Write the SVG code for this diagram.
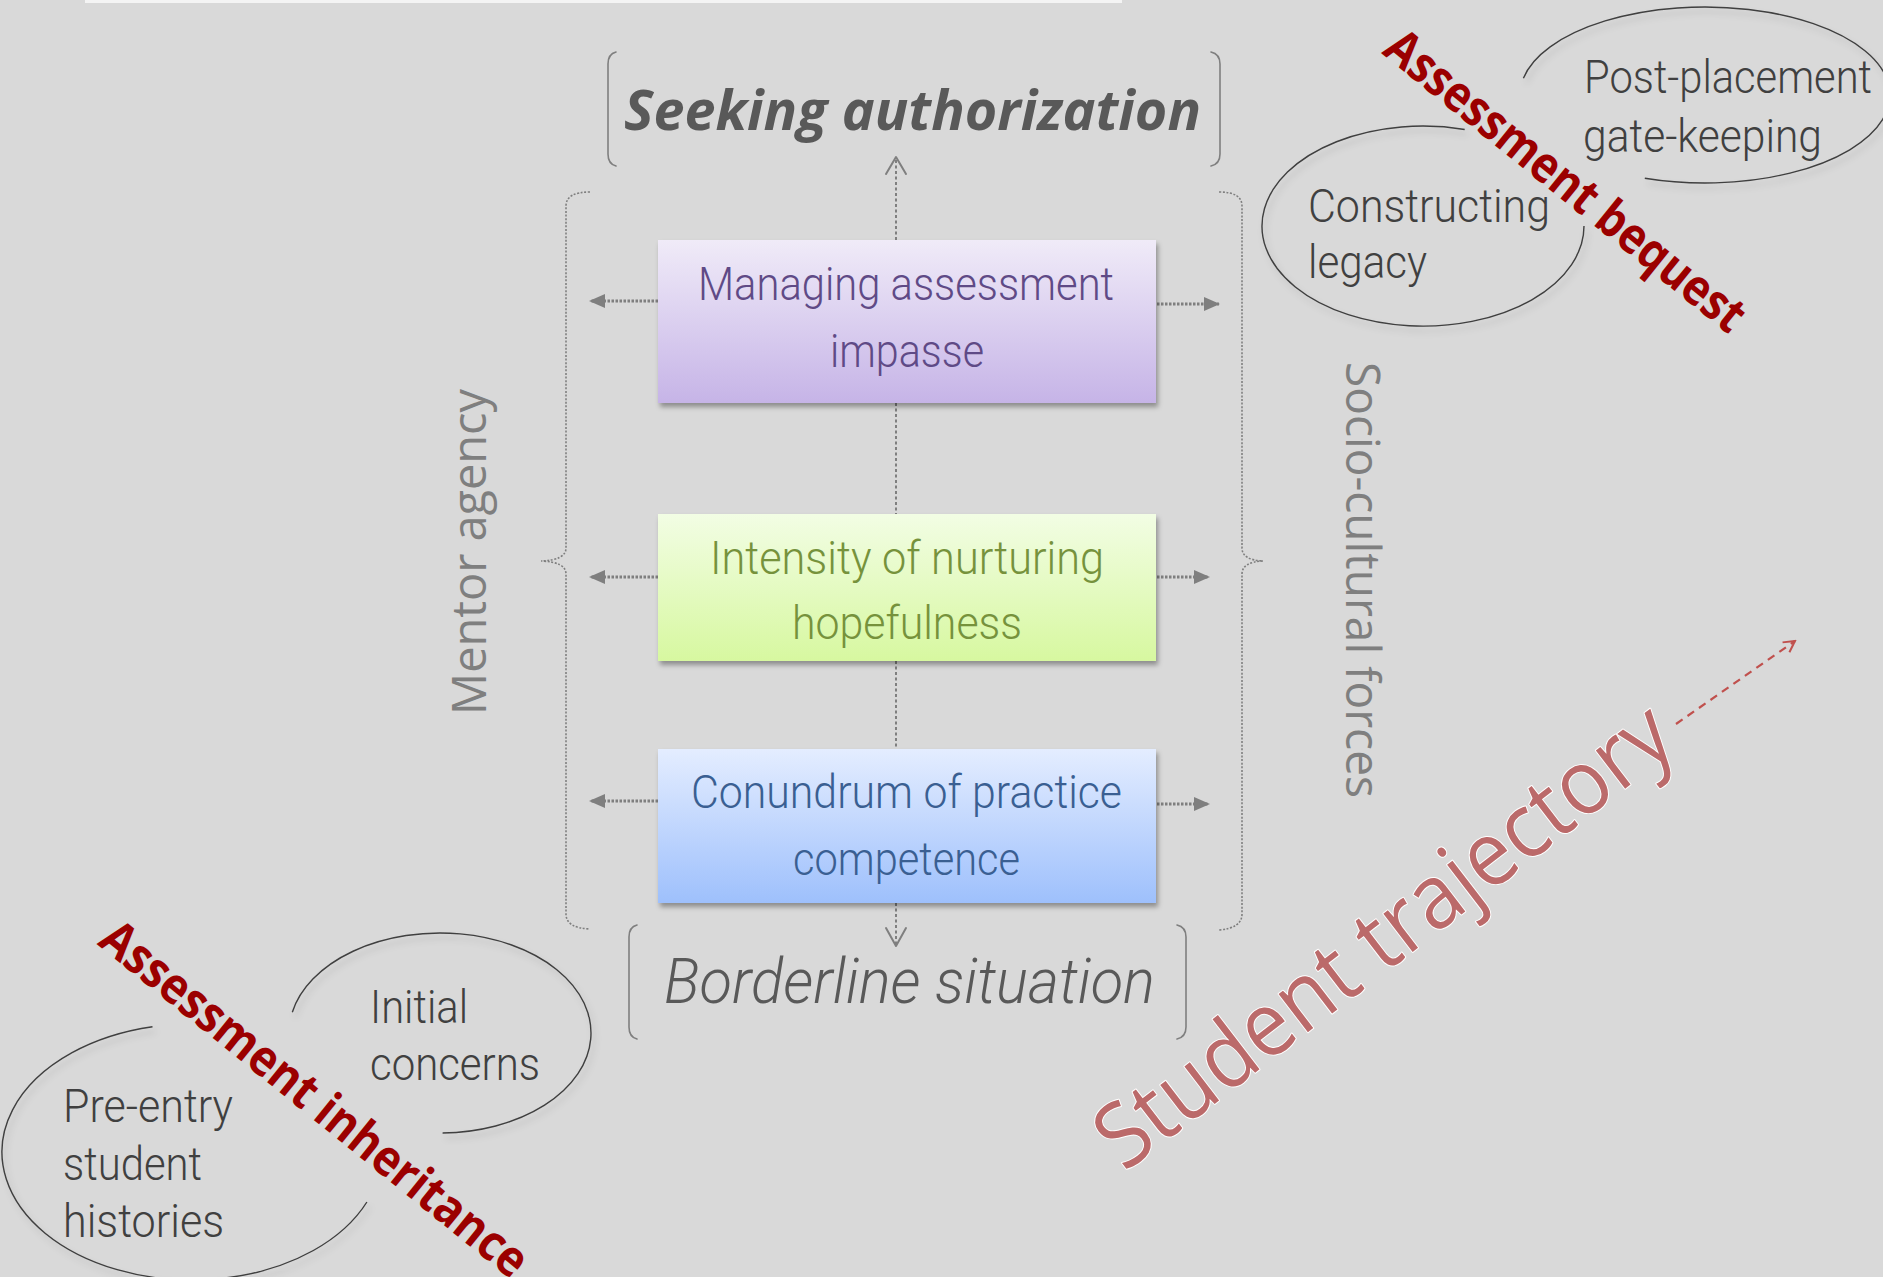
<svg xmlns="http://www.w3.org/2000/svg" width="1883" height="1277" viewBox="0 0 1883 1277">
  <style>
    .bg { fill: #d9d9d9; }
    .boxText { font-family: Roboto, "Open Sans", sans-serif; font-weight: 300; font-size: 46px; }
    .ellText { font-family: Roboto, "Open Sans", sans-serif; font-weight: 300; font-size: 46px; fill: #404040; }
    .side { font-family: "Open Sans", "Noto Sans", sans-serif; font-weight: 400; font-size: 48px; fill: #7f7f7f; }
    .stamp { font-family: "Open Sans", "Noto Sans", sans-serif; font-weight: 700; font-size: 50px; fill: #9b0000; }
    .bracket { fill: none; stroke: #7f7f7f; stroke-width: 1.6; stroke-linecap: round; }
    .brace { fill: none; stroke: #7f7f7f; stroke-width: 1.6; stroke-dasharray: 2 1.6; }
    .spine { fill: none; stroke: #7f7f7f; stroke-width: 2; stroke-dasharray: 3 2.5; }
    .sideArrow { fill: none; stroke: #7f7f7f; stroke-width: 3; stroke-dasharray: 2.5 1.5; }
    .openHead { fill: none; stroke: #7f7f7f; stroke-width: 2; stroke-linecap: round; stroke-linejoin: round; }
    .arc { fill: none; stroke: #3f3f3f; stroke-width: 1.4; }
  </style>
  <defs>
    <linearGradient id="gPurple" x1="0" y1="0" x2="0" y2="1">
      <stop offset="0" stop-color="#f0ebf8"/>
      <stop offset="1" stop-color="#c6b4e7"/>
    </linearGradient>
    <linearGradient id="gGreen" x1="0" y1="0" x2="0" y2="1">
      <stop offset="0" stop-color="#f2fde4"/>
      <stop offset="1" stop-color="#d7f8a0"/>
    </linearGradient>
    <linearGradient id="gBlue" x1="0" y1="0" x2="0" y2="1">
      <stop offset="0" stop-color="#e4edff"/>
      <stop offset="1" stop-color="#9ec0fc"/>
    </linearGradient>
    <filter id="boxShadow" x="-10%" y="-10%" width="130%" height="140%">
      <feDropShadow dx="2" dy="4" stdDeviation="2.5" flood-color="#000" flood-opacity="0.35"/>
    </filter>
    <filter id="arcShadow" x="-10%" y="-10%" width="130%" height="140%">
      <feDropShadow dx="3" dy="5" stdDeviation="3" flood-color="#000" flood-opacity="0.18"/>
    </filter>
    <marker id="triHead" viewBox="0 0 16 14" refX="15" refY="7" markerWidth="16" markerHeight="14" markerUnits="userSpaceOnUse" orient="auto">
      <path d="M0,0 L16,7 L0,14 Z" fill="#7f7f7f"/>
    </marker>
    <marker id="redHead" viewBox="0 0 14 14" refX="12" refY="7" markerWidth="14" markerHeight="14" markerUnits="userSpaceOnUse" orient="auto">
      <path d="M1,1 L12,7 L1,13" fill="none" stroke="#c0504d" stroke-width="2"/>
    </marker>
  </defs>

  <rect class="bg" x="0" y="0" width="1883" height="1277"/>
  <rect x="85" y="0" width="1037" height="3" fill="#f4f4f4"/>

  <!-- outcome labels with their brackets -->
  <g id="seeking-authorization">
    <path class="bracket" d="M616,52 Q608,54 608,64 L608,154 Q608,164 616,166"/>
    <path class="bracket" d="M1211,52 Q1220,54 1220,64 L1220,154 Q1220,164 1211,166"/>
    <text x="624" y="130" textLength="577" lengthAdjust="spacingAndGlyphs" font-family="'Open Sans', 'Noto Sans', sans-serif" font-weight="700" font-style="italic" font-size="56" fill="#595959">Seeking authorization</text>
  </g>

  <g id="borderline-situation">
    <path class="bracket" d="M637,925 Q629,927 629,937 L629,1027 Q629,1037 637,1039"/>
    <path class="bracket" d="M1177,925 Q1186,927 1186,937 L1186,1027 Q1186,1037 1177,1039"/>
    <text x="664" y="1003" textLength="491" lengthAdjust="spacingAndGlyphs" font-family="Roboto, 'Open Sans', sans-serif" font-weight="300" font-style="italic" font-size="63" fill="#595959">Borderline situation</text>
  </g>

  <!-- side forces -->
  <g id="mentor-agency">
    <path class="brace" d="M590,192 Q566,192 566,206 L566,548 Q566,560 541,561 Q566,562 566,574 L566,914 Q566,928 590,929"/>
    <text class="side" transform="translate(486,552) rotate(-90)" text-anchor="middle" textLength="326" lengthAdjust="spacingAndGlyphs">Mentor agency</text>
  </g>

  <g id="socio-cultural-forces">
    <path class="brace" d="M1219,192 Q1242,192 1242,206 L1242,548 Q1242,560 1263,561 Q1242,562 1242,574 L1242,914 Q1242,928 1219,930"/>
    <text class="side" transform="translate(1346,580) rotate(90)" text-anchor="middle" textLength="436" lengthAdjust="spacingAndGlyphs">Socio-cultural forces</text>
  </g>

  <!-- connectors -->
  <g id="connectors">
    <line class="spine" x1="896" y1="160" x2="896" y2="240"/>
    <path class="openHead" d="M886,174 L896,157 L906,174"/>
    <line class="spine" x1="896" y1="403" x2="896" y2="514"/>
    <line class="spine" x1="896" y1="661" x2="896" y2="749"/>
    <line class="spine" x1="896" y1="903" x2="896" y2="944"/>
    <path class="openHead" d="M886,928 L896,946 L906,928"/>

    <line class="sideArrow" x1="658" y1="301" x2="590" y2="301" marker-end="url(#triHead)"/>
    <line class="sideArrow" x1="1157" y1="304" x2="1219" y2="304" marker-end="url(#triHead)"/>
    <line class="sideArrow" x1="658" y1="577" x2="590" y2="577" marker-end="url(#triHead)"/>
    <line class="sideArrow" x1="1157" y1="577" x2="1209" y2="577" marker-end="url(#triHead)"/>
    <line class="sideArrow" x1="658" y1="801" x2="590" y2="801" marker-end="url(#triHead)"/>
    <line class="sideArrow" x1="1157" y1="804" x2="1209" y2="804" marker-end="url(#triHead)"/>

    <line x1="1676" y1="724" x2="1795" y2="641" stroke="#c0504d" stroke-width="2.2" stroke-dasharray="8 6" marker-end="url(#redHead)"/>
  </g>

  <!-- stages -->
  <g id="managing-assessment-impasse">
    <rect x="658" y="240" width="498" height="163" fill="url(#gPurple)" filter="url(#boxShadow)"/>
    <text class="boxText" fill="#5f4a86" x="698" y="300" textLength="416" lengthAdjust="spacingAndGlyphs">Managing assessment</text>
    <text class="boxText" fill="#5f4a86" x="830" y="367" textLength="154" lengthAdjust="spacingAndGlyphs">impasse</text>
  </g>

  <g id="intensity-of-nurturing-hopefulness">
    <rect x="658" y="514" width="498" height="147" fill="url(#gGreen)" filter="url(#boxShadow)"/>
    <text class="boxText" fill="#76923c" x="710" y="574" textLength="394" lengthAdjust="spacingAndGlyphs">Intensity of nurturing</text>
    <text class="boxText" fill="#76923c" x="792" y="639" textLength="230" lengthAdjust="spacingAndGlyphs">hopefulness</text>
  </g>

  <g id="conundrum-of-practice-competence">
    <rect x="658" y="749" width="498" height="154" fill="url(#gBlue)" filter="url(#boxShadow)"/>
    <text class="boxText" fill="#3a5f92" x="691" y="808" textLength="431" lengthAdjust="spacingAndGlyphs">Conundrum of practice</text>
    <text class="boxText" fill="#3a5f92" x="793" y="875" textLength="227" lengthAdjust="spacingAndGlyphs">competence</text>
  </g>

  <!-- assessment bequest cluster -->
  <g id="post-placement-gate-keeping">
    <path class="arc" filter="url(#arcShadow)" d="M1523.4,78.2 A185,88 0 1 1 1644.8,178.2"/>
    <text class="ellText" x="1584" y="93" textLength="288" lengthAdjust="spacingAndGlyphs">Post-placement</text>
    <text class="ellText" x="1583" y="152" textLength="239" lengthAdjust="spacingAndGlyphs">gate-keeping</text>
  </g>

  <g id="constructing-legacy">
    <path class="arc" filter="url(#arcShadow)" d="M1584,226 A161,100 0 1 1 1464.7,129.5"/>
    <text class="ellText" x="1308" y="222" textLength="242" lengthAdjust="spacingAndGlyphs">Constructing</text>
    <text class="ellText" x="1308" y="278" textLength="119" lengthAdjust="spacingAndGlyphs">legacy</text>
  </g>

  <g id="assessment-bequest">
    <text class="stamp" transform="translate(1555,194) rotate(39)" text-anchor="middle" textLength="448" lengthAdjust="spacingAndGlyphs">Assessment bequest</text>
  </g>

  <!-- assessment inheritance cluster -->
  <g id="initial-concerns">
    <path class="arc" filter="url(#arcShadow)" d="M292.3,1012.2 A151,100 0 1 1 442.6,1133"/>
    <text class="ellText" x="370" y="1023" textLength="98" lengthAdjust="spacingAndGlyphs">Initial</text>
    <text class="ellText" x="370" y="1080" textLength="170" lengthAdjust="spacingAndGlyphs">concerns</text>
  </g>

  <g id="pre-entry-student-histories">
    <path class="arc" filter="url(#arcShadow)" d="M366.9,1202 A190,128 0 1 1 152.5,1026.8"/>
    <text class="ellText" x="63" y="1122" textLength="170" lengthAdjust="spacingAndGlyphs">Pre-entry</text>
    <text class="ellText" x="63" y="1180" textLength="139" lengthAdjust="spacingAndGlyphs">student</text>
    <text class="ellText" x="63" y="1237" textLength="161" lengthAdjust="spacingAndGlyphs">histories</text>
  </g>

  <g id="assessment-inheritance">
    <text class="stamp" transform="translate(304,1112) rotate(39)" text-anchor="middle" textLength="534" lengthAdjust="spacingAndGlyphs">Assessment inheritance</text>
  </g>

  <!-- trajectory label -->
  <g id="student-trajectory">
    <text transform="translate(1402,960) rotate(-37.5)" text-anchor="middle" textLength="700" lengthAdjust="spacingAndGlyphs" font-family="'Open Sans', 'Noto Sans', sans-serif" font-weight="400" font-size="90" fill="#bb6a6a" stroke="#ffffff" stroke-width="2" paint-order="stroke" stroke-linejoin="round">Student trajectory</text>
  </g>
</svg>
